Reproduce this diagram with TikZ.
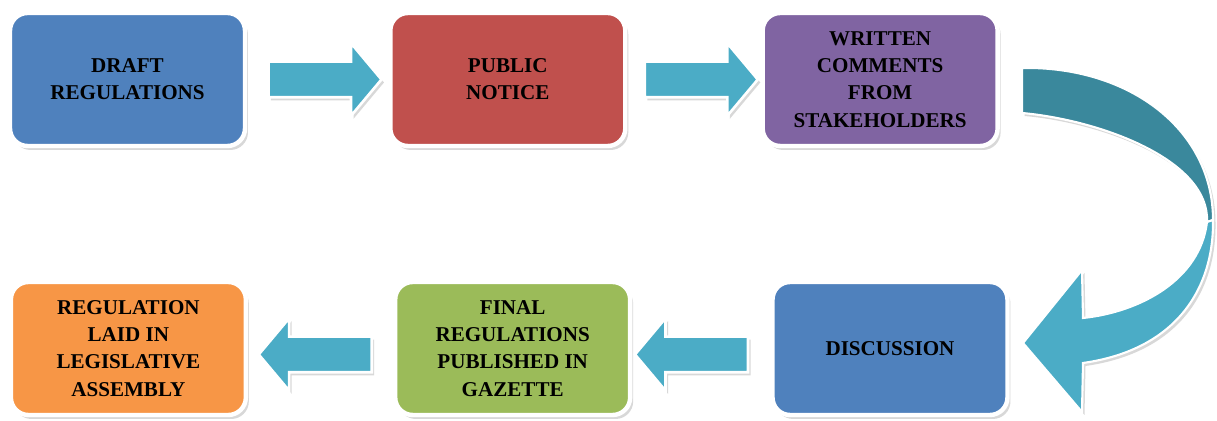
\documentclass[tikz,border=0pt]{standalone}
\usepackage{fontspec}
\setmainfont{Liberation Serif}
\newfontfamily\stagefont{Liberation Serif}
\usetikzlibrary{shapes.arrows, positioning, shadows}

\definecolor{boxblue}{HTML}{4F81BD}
\definecolor{boxred}{HTML}{C0504D}
\definecolor{boxpurple}{HTML}{8064A2}
\definecolor{boxgreen}{HTML}{9BBB59}
\definecolor{boxorange}{HTML}{F79646}
\definecolor{arrowteal}{HTML}{4BACC6}
\definecolor{darkteal}{HTML}{3A889C}

\tikzstyle{stage} = [rectangle, rounded corners=10pt,
minimum width=4.7cm, minimum height=2.66cm,
draw=white, line width=2.5pt, align=center,
font=\stagefont\fontsize{12}{15.5}\selectfont\bfseries,
drop shadow={shadow xshift=0.6mm, shadow yshift=-0.8mm, fill=black!30}]
\tikzstyle{fatarrow} = [single arrow, fill=arrowteal, draw=white, line width=1.5pt,
inner sep=0pt, inner ysep=0.33cm, minimum height=2.26cm,
single arrow head extend=0.37cm, single arrow tip angle=100,
drop shadow={shadow xshift=0.5mm, shadow yshift=-0.6mm, fill=black!30}]

\begin{document}
\begin{tikzpicture}[x=0.02cm, y=-0.02cm]
\useasboundingbox (0,0) rectangle (1217,421);

% Top row
\node[stage, fill=boxblue] (draft) at (127.5,79.5) {DRAFT\\REGULATIONS};
\node[stage, fill=boxred, right=2.82cm of draft] (notice) {PUBLIC\\NOTICE};
\node[stage, fill=boxpurple, right=2.66cm of notice] (written) {WRITTEN\\COMMENTS\\FROM\\STAKEHOLDERS};

% Bottom row
\node[stage, fill=boxblue] (discussion) at (890,348.5) {DISCUSSION};
\node[stage, fill=boxgreen, left=2.76cm of discussion] (final) {FINAL\\REGULATIONS\\PUBLISHED IN\\GAZETTE};
\node[stage, fill=boxorange, left=2.9cm of final] (laid) {REGULATION\\LAID IN\\LEGISLATIVE\\ASSEMBLY};

% Arrows
\node[fatarrow, right=0.4cm of draft] (arrA) {};
\node[fatarrow, right=0.32cm of notice] (arrB) {};
\node[fatarrow, shape border rotate=180, left=0.42cm of discussion, yshift=-0.12cm] (arrC) {};
\node[fatarrow, shape border rotate=180, left=0.4cm of final, yshift=-0.12cm] (arrD) {};

% Curved arrow from written comments down to discussion
\coordinate (turn) at (1213,220);
\coordinate (turnin) at (1207,222);
\fill[darkteal, draw=white, line width=1.2pt,
  drop shadow={shadow xshift=0.5mm, shadow yshift=-0.6mm, fill=black!30}]
  (1022,68) .. controls (1130,66) and (1213,130) .. (turn)
  -- (turnin) .. controls (1210,160) and (1100,120) .. (1022,113) -- cycle;
\fill[arrowteal, draw=white, line width=1.2pt,
  drop shadow={shadow xshift=0.5mm, shadow yshift=-0.6mm, fill=black!30}]
  (turnin) .. controls (1200,280) and (1140,312) .. (1083,318)
  -- (1082,270) -- (1023,343) -- (1082,412) -- (1083,363)
  .. controls (1175,350) and (1214,290) .. (turn) -- cycle;

\end{tikzpicture}
\end{document}
